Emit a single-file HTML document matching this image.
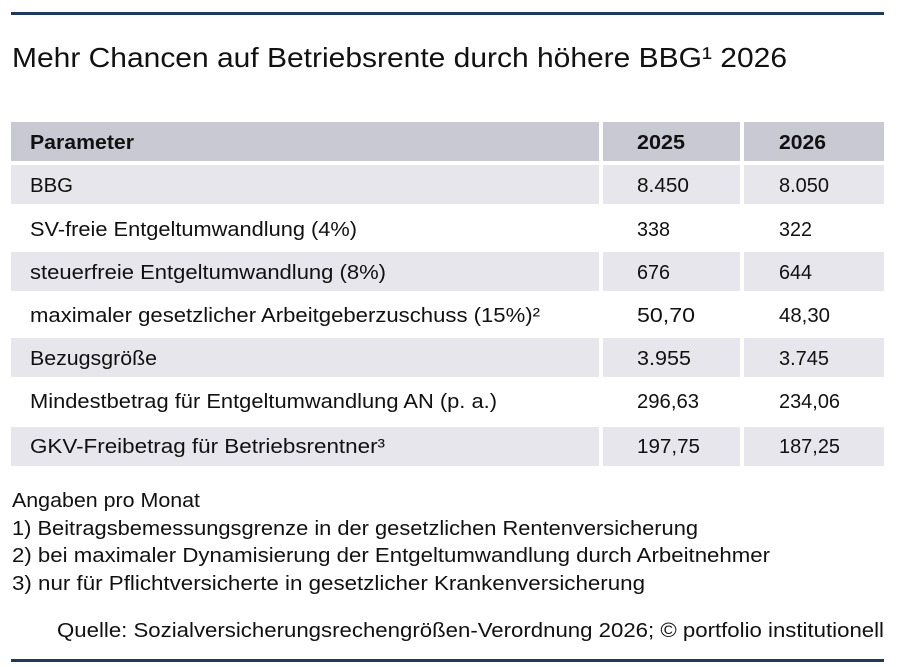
<!DOCTYPE html>
<html><head><meta charset="utf-8"><style>
html,body{margin:0;padding:0;background:#fff;}
svg{display:block;font-family:"Liberation Sans",sans-serif;}
text{fill:#111;}
</style></head><body>
<svg width="900" height="667" viewBox="0 0 900 667" xmlns="http://www.w3.org/2000/svg">
<rect x="11" y="12" width="873" height="3" fill="#1f3a5a"/>
<text x="12" y="67" font-size="28" textLength="775" lengthAdjust="spacingAndGlyphs">Mehr Chancen auf Betriebsrente durch höhere BBG¹ 2026</text>

<g fill="#c9c9d3">
<rect x="11" y="122" width="588" height="39"/><rect x="603" y="122" width="137" height="39"/><rect x="744" y="122" width="140" height="39"/>
</g>
<g fill="#e6e6ec">
<rect x="11" y="165" width="588" height="39"/><rect x="603" y="165" width="137" height="39"/><rect x="744" y="165" width="140" height="39"/>
<rect x="11" y="252" width="588" height="39"/><rect x="603" y="252" width="137" height="39"/><rect x="744" y="252" width="140" height="39"/>
<rect x="11" y="338" width="588" height="39"/><rect x="603" y="338" width="137" height="39"/><rect x="744" y="338" width="140" height="39"/>
<rect x="11" y="427" width="588" height="39"/><rect x="603" y="427" width="137" height="39"/><rect x="744" y="427" width="140" height="39"/>
</g>

<g font-size="20" font-weight="bold">
<text x="30" y="149" textLength="104" lengthAdjust="spacingAndGlyphs">Parameter</text>
<text x="637" y="149" textLength="48" lengthAdjust="spacingAndGlyphs">2025</text>
<text x="779" y="149" textLength="47" lengthAdjust="spacingAndGlyphs">2026</text>
</g>
<g font-size="20">
<text x="30" y="192" textLength="43" lengthAdjust="spacingAndGlyphs">BBG</text>
<text x="637" y="192" textLength="52" lengthAdjust="spacingAndGlyphs">8.450</text>
<text x="779" y="192" textLength="50" lengthAdjust="spacingAndGlyphs">8.050</text>

<text x="30" y="236" textLength="327" lengthAdjust="spacingAndGlyphs">SV-freie Entgeltumwandlung (4%)</text>
<text x="637" y="236" textLength="33" lengthAdjust="spacingAndGlyphs">338</text>
<text x="779" y="236" textLength="33" lengthAdjust="spacingAndGlyphs">322</text>

<text x="30" y="279" textLength="356" lengthAdjust="spacingAndGlyphs">steuerfreie Entgeltumwandlung (8%)</text>
<text x="637" y="279" textLength="33" lengthAdjust="spacingAndGlyphs">676</text>
<text x="779" y="279" textLength="33" lengthAdjust="spacingAndGlyphs">644</text>

<text x="30" y="322" textLength="510" lengthAdjust="spacingAndGlyphs">maximaler gesetzlicher Arbeitgeberzuschuss (15%)²</text>
<text x="637" y="322" textLength="58" lengthAdjust="spacingAndGlyphs">50,70</text>
<text x="779" y="322" textLength="51" lengthAdjust="spacingAndGlyphs">48,30</text>

<text x="30" y="365" textLength="127" lengthAdjust="spacingAndGlyphs">Bezugsgröße</text>
<text x="637" y="365" textLength="54" lengthAdjust="spacingAndGlyphs">3.955</text>
<text x="779" y="365" textLength="50" lengthAdjust="spacingAndGlyphs">3.745</text>

<text x="30" y="408" textLength="467" lengthAdjust="spacingAndGlyphs">Mindestbetrag für Entgeltumwandlung AN (p. a.)</text>
<text x="637" y="408" textLength="62" lengthAdjust="spacingAndGlyphs">296,63</text>
<text x="779" y="408" textLength="61" lengthAdjust="spacingAndGlyphs">234,06</text>

<text x="30" y="453" textLength="355" lengthAdjust="spacingAndGlyphs">GKV-Freibetrag für Betriebsrentner³</text>
<text x="637" y="453" textLength="63" lengthAdjust="spacingAndGlyphs">197,75</text>
<text x="779" y="453" textLength="61" lengthAdjust="spacingAndGlyphs">187,25</text>

<text x="12" y="507" textLength="188" lengthAdjust="spacingAndGlyphs">Angaben pro Monat</text>
<text x="12" y="535" textLength="686" lengthAdjust="spacingAndGlyphs">1) Beitragsbemessungsgrenze in der gesetzlichen Rentenversicherung</text>
<text x="12" y="562" textLength="758" lengthAdjust="spacingAndGlyphs">2) bei maximaler Dynamisierung der Entgeltumwandlung durch Arbeitnehmer</text>
<text x="12" y="590" textLength="633" lengthAdjust="spacingAndGlyphs">3) nur für Pflichtversicherte in gesetzlicher Krankenversicherung</text>
<text x="57" y="637" textLength="827" lengthAdjust="spacingAndGlyphs">Quelle: Sozialversicherungsrechengrößen-Verordnung 2026; © portfolio institutionell</text>
</g>
<rect x="11" y="659" width="873" height="3" fill="#1f3a5a"/>
</svg>
</body></html>
